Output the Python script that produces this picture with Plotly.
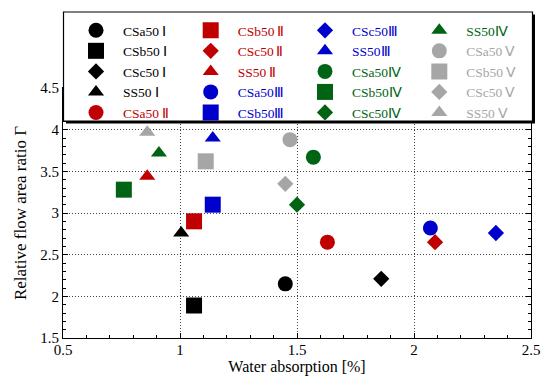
import plotly.graph_objects as go

# ---- data ----
specimens = ["CSa50", "CSb50", "CSc50", "SS50"]
groups = ["Ⅰ", "Ⅱ", "Ⅲ", "Ⅳ", "Ⅴ"]

water_I = [1.45, 1.06, 1.86, 1.005]
ratio_I = [2.15, 1.89, 2.21, 2.76]
water_II = [1.63, 1.06, 2.09, 0.86]
ratio_II = [2.65, 2.90, 2.65, 3.44]
water_III = [2.07, 1.14, 2.35, 1.14]
ratio_III = [2.82, 3.10, 2.76, 3.90]
water_IV = [1.57, 0.76, 1.50, 0.91]
ratio_IV = [3.67, 3.28, 3.10, 3.72]
water_V = [1.47, 1.11, 1.45, 0.86]
ratio_V = [3.88, 3.62, 3.35, 3.97]

x_ticks = [0.5, 1, 1.5, 2, 2.5]
y_ticks = [1.5, 2, 2.5, 3, 3.5, 4, 4.5]

# ---- styling ----
water = [water_I, water_II, water_III, water_IV, water_V]
ratio = [ratio_I, ratio_II, ratio_III, ratio_IV, ratio_V]
colors = ["#000000", "#c00000", "#0000cc", "#006414", "#a6a6a6"]
symbols = ["circle", "square", "diamond", "triangle-up"]
sizes = [15, 16, 12.5, 14]
gaps = [" ", "\u2009", "", "", "\u2009"]
FONT = "Liberation Serif"

fig = go.Figure()
legend_names = ["legend", "legend2", "legend3", "legend4"]
k = 0
for gi, g in enumerate(groups):
    for si, s in enumerate(specimens):
        col = colors[gi]
        fig.add_trace(go.Scatter(
            x=[water[gi][si]], y=[ratio[gi][si]], mode="markers",
            marker=dict(symbol=symbols[si], size=sizes[si], color=col, line=dict(width=0)),
            name=f"<span style='color:{col}'>{s}{gaps[gi]}{g}</span>",
            legend=legend_names[k // 5],
            hoverinfo="x+y+name",
        ))
        k += 1

# plot area geometry (px) for legend box
W, H = 545, 376
ml, mr, mt, mb = 63, 14, 88, 38
pw, ph = W - ml - mr, H - mt - mb

def px2x(px):
    return (px - ml) / pw

def py2y(py):
    return (H - mb - py) / ph

box_l, box_r, box_t, box_b = 63.5, 532.5, 12, 121
sh = 2.5
fig.add_shape(type="rect", xref="paper", yref="paper",
              x0=px2x(box_l + sh), x1=px2x(box_r + sh), y0=py2y(box_b + sh), y1=py2y(box_t + sh),
              fillcolor="black", line=dict(width=0), layer="above")
fig.add_shape(type="rect", xref="paper", yref="paper",
              x0=px2x(box_l), x1=px2x(box_r), y0=py2y(box_b), y1=py2y(box_t),
              fillcolor="white", line=dict(color="black", width=1.2), layer="above")

col_left_px = [69, 183.7, 298, 412.3]
legend_common = dict(
    bgcolor="rgba(0,0,0,0)", borderwidth=0, font=dict(family=FONT, size=13.5, color="black"),
    itemwidth=44, tracegroupgap=0, yanchor="top", xanchor="left", orientation="v",
    itemclick=False, itemdoubleclick=False,
)
for i, ln in enumerate(legend_names):
    fig.update_layout({ln: dict(x=px2x(col_left_px[i]), y=py2y(15), **legend_common)})

axis_common = dict(
    showline=True, linecolor="black", linewidth=1.2, mirror="ticks",
    ticks="inside", ticklen=5, tickwidth=1, tickcolor="black",
    showgrid=True, gridcolor="#444444", gridwidth=1, griddash="1px,2px",
    zeroline=False,
    tickfont=dict(family=FONT, size=15, color="black"),
    minor=dict(ticks="inside", ticklen=2.5, tickcolor="black", showgrid=False),
)
fig.update_xaxes(range=[0.5, 2.5], tickvals=x_ticks, ticktext=[f"{v:g}" for v in x_ticks],
                 minor_dtick=0.1, ticklabelstandoff=-2,
                 title=dict(text="Water absorption [%]", font=dict(family=FONT, size=16, color="black"), standoff=6),
                 **axis_common)
fig.update_yaxes(range=[1.5, 4.5], tickvals=y_ticks, ticktext=[f"{v:g}" for v in y_ticks],
                 minor_dtick=0.1,
                 title=dict(text="Relative flow area ratio Γ", font=dict(family=FONT, size=17, color="black"), standoff=9),
                 **axis_common)

fig.update_layout(
    width=W, height=H, margin=dict(l=ml, r=mr, t=mt, b=mb, autoexpand=False),
    plot_bgcolor="white", paper_bgcolor="white", showlegend=True,
    font=dict(family=FONT),
)

fig.write_html("out.html")
